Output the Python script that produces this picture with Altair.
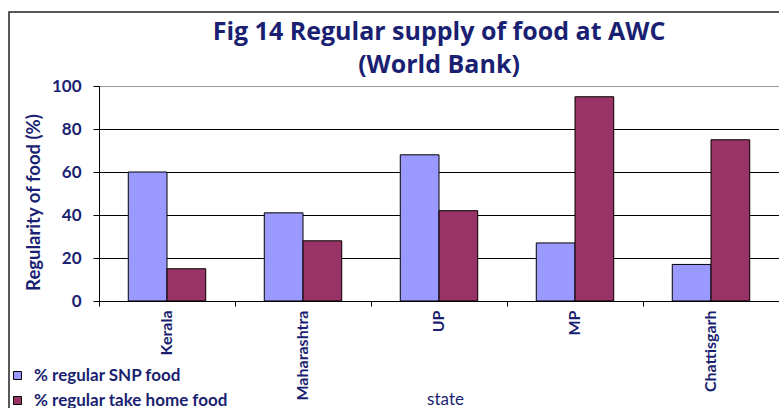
import altair as alt
import pandas as pd

states = ["Kerala", "Maharashtra", "UP", "MP", "Chattisgarh"]
series = ["% regular SNP food", "% regular take home food"]
snp_food = [60, 41, 68, 27, 17]
take_home_food = [15, 28, 42, 95, 75]
y_ticks = [0, 20, 40, 60, 80, 100]
colors = ["#9999FF", "#993366"]

rows = []
for s, a, b in zip(states, snp_food, take_home_food):
    rows.append({"state": s, "series": series[0], "value": a})
    rows.append({"state": s, "series": series[1], "value": b})
df = pd.DataFrame(rows)

NAVY = "#1A1F71"
FONT = "Lato"

bars = alt.Chart(df).mark_bar(stroke="black", strokeWidth=1).encode(
    x=alt.X(
        "state:N",
        sort=states,
        title="state",
        scale=alt.Scale(paddingInner=0, paddingOuter=0),
        axis=alt.Axis(
            bandPosition=0,
            tickSize=5,
            tickColor="black",
            domainColor="black",
            grid=False,
            labelAngle=270,
            labelAlign="right",
            labelBaseline="middle",
            labelPadding=4,
            labelFont=FONT,
            labelFontSize=16,
            labelFontWeight="bold",
            labelColor=NAVY,
            titleFont=FONT,
            titleFontSize=17,
            titleFontWeight="normal",
            titleColor=NAVY,
            titleX=346,
            titleY=98,
            titleBaseline="middle",
        ),
    ),
    xOffset=alt.XOffset(
        "series:N", sort=series, scale=alt.Scale(paddingInner=0, paddingOuter=0.756)
    ),
    y=alt.Y(
        "value:Q",
        title="Regularity of food (%)",
        scale=alt.Scale(domain=[0, 100], nice=False),
        axis=alt.Axis(
            values=y_ticks,
            tickSize=6,
            tickColor="black",
            domainColor="black",
            grid=True,
            gridColor={"condition": {"test": "datum.value === 100", "value": "#999999"}, "value": "black"},
            gridWidth=1,
            labelPadding=12,
            labelFont=FONT,
            labelFontSize=17,
            labelFontWeight="bold",
            labelColor=NAVY,
            titleFont=FONT,
            titleFontSize=18.5,
            titleFontWeight="bold",
            titleColor=NAVY,
            titleAngle=270,
            titleX=-66,
            titleY=116,
            titleAlign="center",
            titleBaseline="middle",
        ),
    ),
    color=alt.Color(
        "series:N",
        sort=series,
        title=None,
        scale=alt.Scale(domain=series, range=colors),
        legend=alt.Legend(
            orient="none",
            legendX=-90,
            legendY=281,
            symbolType="square",
            symbolSize=64,
            symbolStrokeColor="black",
            symbolStrokeWidth=1,
            labelFont=FONT,
            labelFontSize=17,
            labelFontWeight="bold",
            labelColor=NAVY,
            labelOffset=8,
            labelLimit=400,
            rowPadding=7,
        ),
    ),
)

frame = alt.Chart(pd.DataFrame({"a": [0]})).mark_rect(
    fill="transparent", stroke="#222222", strokeWidth=1.5
).encode(
    x=alt.value(-90), x2=alt.value(720), y=alt.value(-74), y2=alt.value(340)
)

chart = alt.layer(frame, bars).properties(
    width=680,
    height=215,
    title=alt.TitleParams(
        text=["Fig 14 Regular supply of food at AWC", "(World Bank)"],
        font="Open Sans",
        fontSize=25,
        fontWeight="bold",
        color=NAVY,
        lineHeight=33,
        offset=-67,
        anchor="middle",
        frame="group",
    ),
    autosize=alt.AutoSizeParams(type="none"),
    padding={"left": 99, "top": 86, "right": 0, "bottom": 107},
    background="white",
).configure_view(stroke="#999999")

chart.save("out.html", embed_options={"renderer": "svg", "actions": False})
